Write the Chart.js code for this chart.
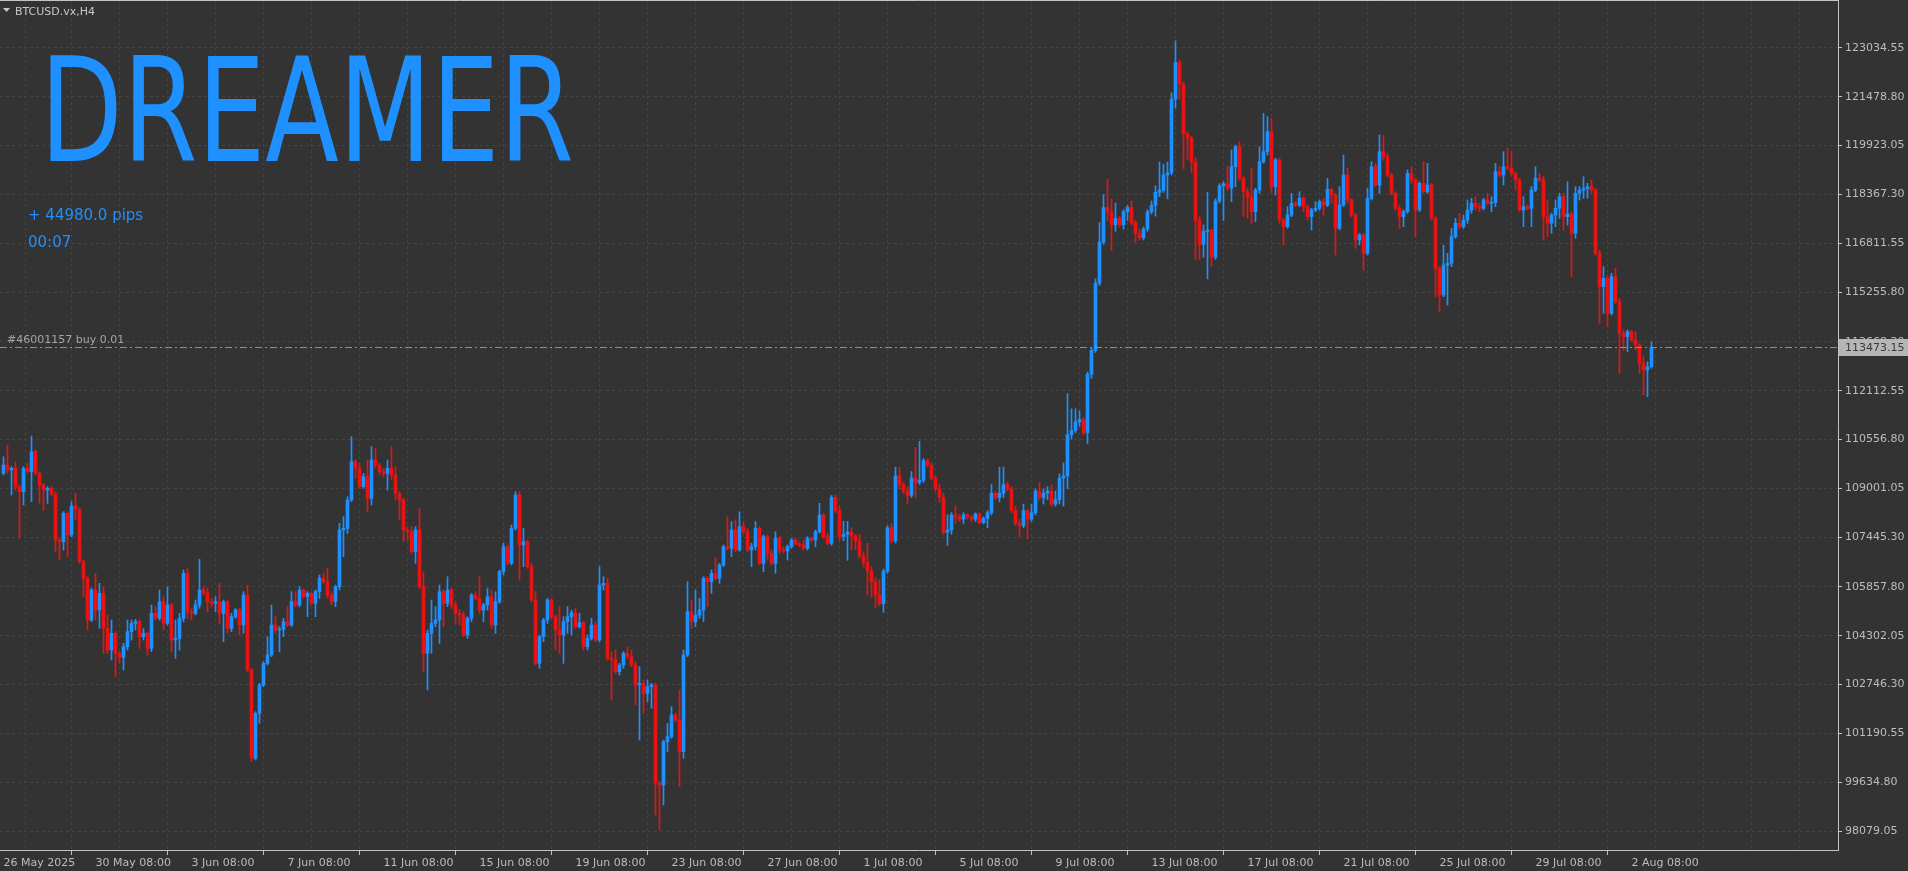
<!DOCTYPE html>
<html>
<head>
<meta charset="utf-8">
<title>BTCUSD.vx,H4</title>
<script src="https://cdn.jsdelivr.net/npm/chart.js@4.4.1/dist/chart.umd.min.js"></script>
<style>
  html, body { margin: 0; padding: 0; background: #333333; overflow: hidden; }
  canvas { display: block; background: #333333; }
</style>
</head>
<body>
<canvas id="chart" width="1908" height="871"></canvas>
<script>
// BTCUSD.vx H4 bars, 26 May 2025 12:00 .. 3 Aug 2025 04:00 (one bar every 4 hours)
const firstOpen = 109478;

const closes = [
  109744, 109584, 109638, 109053, 108894, 109638, 109531, 110169, 109478, 109106,
  108947, 109000, 108820, 107353, 107300, 108203, 107513, 108437, 108330, 106663,
  106132, 104804, 105760, 105122, 105653, 104538, 103847, 104379, 103741, 103614,
  103954, 104432, 104697, 104750, 104272, 104379, 103900, 105016, 104857, 105388,
  104697, 105282, 104166, 104219, 104857, 106291, 105069, 105016, 105282, 105760,
  105675, 105388, 105335, 105388, 105016, 105388, 104538, 104910, 105122, 104644,
  105600, 103210, 100395, 101829, 102732, 103422, 103688, 104644, 104485, 104506,
  104750, 104644, 105388, 105282, 105760, 105547, 105653, 105335, 105707, 106132,
  106025, 105600, 105388, 105866, 107672, 107725, 108628, 109850, 109638, 109053,
  109372, 108681, 109903, 109744, 109531, 109478, 109638, 109425, 108841, 108628,
  107672, 107619, 106982, 107672, 105866, 103741, 104379, 104697, 104804, 105707,
  105335, 105760, 105282, 105016, 104963, 104326, 104857, 105601, 105494, 105122,
  105282, 105547, 104644, 105388, 106344, 107141, 106610, 107725, 108788, 107194,
  107300, 106504, 105441, 103423, 104272, 104804, 105441, 104910, 104485, 104326,
  104751, 104910, 105037, 104591, 104719, 103954, 104219, 104644, 104166, 105919,
  105972, 103582, 103529, 103157, 103369, 103741, 103635, 103369, 102732, 102785,
  102466, 102679, 102732, 99598, 99545, 100926, 101085, 101776, 101617, 100607,
  103688, 105069, 104751, 104963, 105122, 106132, 106026, 106291, 106132, 106557,
  107141, 107088, 107672, 107035, 107778, 107619, 107035, 107141, 107725, 106610,
  107460, 106929, 106610, 107407, 107035, 107003, 107141, 107353, 107226, 107194,
  107088, 107407, 107353, 107619, 108150, 107460, 107247, 108707, 108293, 107465,
  107534, 107603, 107465, 107327, 106844, 106637, 106361, 106016, 105602, 105326,
  106361, 107741, 107327, 109397, 109121, 108914, 108776, 109328, 109190, 109259,
  109880, 109742, 109328, 108983, 108707, 107603, 107672, 108155, 108086, 108017,
  108155, 108086, 108017, 108183, 107907, 108045, 108224, 108845, 108707, 108845,
  109121, 108983, 108293, 107879, 107810, 108293, 108017, 108224, 108914, 108707,
  108845, 108914, 108500, 108638, 109328, 109397, 110708, 110846, 111122, 111191,
  110777, 112639, 113398, 115537, 116847, 117951, 117813, 117399, 117606, 117399,
  117813, 117951, 117468, 117123, 116985, 117261, 117813, 118020, 118434, 118503,
  118986, 119055, 121400, 122573, 121883, 120297, 120159, 119400, 117537, 116779,
  117192, 117234, 116365, 118158, 118641, 118710, 118572, 119252, 119890, 118880,
  118455, 118296, 117818, 118508, 119412, 119730, 120368, 118615, 119465, 117552,
  117340, 117712, 118083, 118030, 118243, 117977, 117658, 117871, 117924, 118137,
  118030, 118529, 118349, 117287, 118030, 118987, 118190, 117712, 116915, 117074,
  116490, 118243, 119252, 118668, 119730, 119571, 118987, 118402, 117924, 117658,
  117818, 119040, 118827, 117871, 118721, 118455, 118668, 117605, 116012, 115162,
  116118, 116171, 117021, 117446, 117340, 117552, 117871, 118083, 117977, 117924,
  118190, 118083, 118105, 119093, 118987, 119252, 119199, 119040, 118827, 117871,
  117977, 117924, 118508, 118880, 118827, 117658, 117446, 117712, 117924, 118296,
  117658, 117743, 117127, 118402, 118508, 118551, 118615, 118508, 116490, 115428,
  115693, 114578, 115746, 114949, 113940, 113834, 113993, 113728, 113568, 112984,
  112772, 112878, 113473
];

const highs = [
  110009, 110381, 109691, 109850, 109106, 109691, 109797, 110668, 110222, 109531,
  109159, 109053, 109050, 108894, 107407, 108256, 108256, 108575, 108841, 108395,
  106716, 106185, 105813, 106291, 105972, 105866, 104963, 104804, 104430, 103794,
  104060, 104804, 104804, 104825, 104800, 104538, 104430, 105282, 105228, 105760,
  105547, 105866, 105335, 104804, 105016, 106397, 106450, 105175, 105441, 106737,
  105866, 105813, 105494, 105547, 105972, 105441, 105441, 105016, 105175, 105175,
  105707, 105919, 103263, 101882, 102785, 103475, 104272, 105282, 104910, 104591,
  104857, 105228, 105707, 105707, 105866, 105800, 105707, 105700, 105760, 106238,
  106291, 106450, 105707, 105919, 107885, 108097, 108734, 110647, 109903, 109797,
  109478, 109903, 110328, 110275, 109797, 109638, 109903, 110328, 109691, 108894,
  108681, 107778, 107778, 107778, 108363, 106344, 104485, 105441, 105229, 105919,
  105760, 106185, 105813, 105388, 105122, 105069, 104910, 105654, 105707, 106185,
  105335, 105813, 105760, 105707, 106397, 107247, 107194, 107832, 108894, 108894,
  107725, 107353, 106610, 105707, 104326, 104857, 105494, 105494, 104963, 105229,
  104910, 105229, 105122, 105176, 105016, 104751, 104326, 104857, 104751, 106504,
  106185, 106132, 103794, 103848, 103423, 103794, 103954, 103848, 103476, 103316,
  102891, 102891, 102785, 102785, 99651, 100979, 101510, 102042, 101829, 102573,
  103848, 106026, 105441, 105760, 105494, 106185, 106185, 106397, 106769, 106610,
  107194, 108097, 107938, 107991, 108257, 107938, 107725, 107247, 107938, 107778,
  107513, 107513, 107035, 107619, 107460, 107141, 107194, 107407, 107407, 107300,
  107353, 107460, 107439, 107672, 108522, 108203, 107566, 108776, 108776, 108431,
  107948, 107948, 107741, 107534, 107534, 106982, 107258, 106499, 106154, 106085,
  106430, 107810, 107879, 109673, 109673, 109190, 109052, 109535, 110294, 110501,
  109949, 109949, 109811, 109397, 109121, 108845, 108155, 108224, 108431, 108183,
  108224, 108183, 108128, 108224, 108224, 108086, 108293, 109121, 108914, 109673,
  109673, 109190, 109052, 108431, 108017, 108500, 108330, 108500, 108983, 109190,
  108983, 109052, 109121, 108914, 109466, 109811, 112018, 111535, 111535, 111466,
  111259, 112708, 113467, 115675, 117468, 118365, 118848, 118227, 118089, 117675,
  117882, 118020, 118158, 117537, 117261, 117330, 117882, 118158, 118641, 119400,
  119331, 119400, 121608, 123263, 122642, 121952, 120366, 120228, 119538, 117675,
  117399, 118434, 117261, 118227, 118710, 118779, 119262, 119783, 119943, 120049,
  118933, 118562, 119199, 118562, 119890, 120952, 120846, 120793, 119518, 119518,
  117605, 117977, 118402, 118137, 118455, 118296, 118030, 117924, 118137, 118190,
  118243, 118880, 118562, 118402, 118615, 119624, 119199, 118243, 117765, 117127,
  117127, 118562, 119412, 119358, 120262, 120262, 119677, 119040, 118455, 118030,
  117871, 119146, 119252, 118880, 118774, 119412, 119358, 118721, 117658, 116065,
  116755, 116490, 117287, 117605, 117765, 117712, 118190, 118243, 118296, 118083,
  118243, 118402, 118296, 119358, 119252, 119730, 119837, 119730, 119093, 118880,
  118296, 118030, 118615, 119252, 119040, 118933, 118190, 117765, 118190, 118402,
  118402, 118774, 117818, 118615, 118615, 118933, 118721, 118827, 118562, 116596,
  116065, 115799, 115852, 116012, 115056, 114046, 114046, 114040, 113993, 113621,
  113196, 113037, 113675
];

const lows = [
  109425, 109478, 108788, 108947, 107407, 108469, 109478, 108575, 109425, 108522,
  108309, 108522, 108756, 106982, 106716, 107035, 106822, 107460, 107991, 106610,
  105547, 104485, 104750, 104804, 104538, 103741, 103741, 103529, 102998, 103422,
  103210, 103847, 104166, 104485, 103900, 104166, 103688, 103794, 104804, 104804,
  104485, 104644, 103794, 103582, 103847, 104750, 104857, 104804, 104963, 105175,
  105600, 105069, 105228, 105069, 104697, 104113, 104379, 104432, 104857, 104325,
  104379, 103157, 100289, 100342, 101510, 102679, 103369, 103635, 104379, 103794,
  104272, 104591, 104600, 105228, 105228, 105494, 104910, 105282, 104910, 105494,
  105972, 105494, 105282, 105228, 105760, 106822, 107566, 108575, 109319, 109000,
  109000, 108256, 108469, 109638, 109425, 109372, 108947, 109266, 108628, 107991,
  107300, 107353, 106928, 106610, 105813, 103157, 102573, 103741, 104591, 104060,
  104591, 105229, 105176, 104697, 104644, 104272, 104219, 104751, 105441, 105016,
  104751, 105122, 104538, 104379, 105335, 106238, 106557, 106560, 107672, 106079,
  106504, 106451, 105388, 103369, 103263, 104113, 104697, 104857, 103848, 103741,
  103423, 104379, 104326, 104538, 104540, 103848, 103848, 104166, 104113, 104110,
  105760, 103529, 102254, 103104, 103051, 103263, 103582, 103316, 102095, 100979,
  101829, 102201, 101989, 98589, 98111, 98908, 100607, 101032, 101563, 99492,
  100395, 103635, 104538, 104591, 104857, 104751, 105229, 105654, 106079, 105972,
  106504, 107035, 106822, 106982, 106990, 107566, 106982, 106504, 107035, 106557,
  106344, 106716, 106557, 106291, 106929, 106950, 106716, 107088, 107194, 107141,
  107035, 107035, 107300, 107141, 107566, 107407, 107194, 107189, 108224, 107327,
  107327, 106706, 107051, 107051, 106775, 106499, 105602, 105533, 105188, 105257,
  105050, 106292, 107258, 107258, 108983, 108845, 108500, 108707, 108707, 109121,
  109190, 109673, 109259, 108914, 108569, 107534, 107189, 107534, 107879, 107948,
  107879, 108017, 107948, 107948, 107879, 107879, 107741, 108155, 108638, 108569,
  108707, 108914, 108224, 107810, 107465, 107741, 107396, 107948, 108155, 108638,
  108500, 108638, 108431, 108431, 108500, 108431, 108983, 110570, 110777, 110984,
  110708, 110432, 112502, 113329, 115468, 116779, 117537, 116572, 117192, 117330,
  117261, 117537, 117399, 116847, 116916, 116916, 117192, 117744, 117675, 118296,
  118434, 118227, 118986, 121125, 121400, 119193, 119469, 119055, 116296, 116296,
  116365, 115675, 116089, 116296, 118089, 117537, 118503, 118137, 118615, 118827,
  117658, 117605, 117446, 117499, 118402, 119358, 119624, 118402, 118349, 117446,
  116755, 117287, 117658, 117977, 117977, 117818, 117552, 117234, 117818, 117871,
  117712, 117977, 118083, 116437, 117234, 117977, 118083, 117658, 116649, 116755,
  115959, 116437, 118190, 118615, 118402, 119465, 118933, 118349, 117871, 117287,
  117340, 117765, 118721, 117021, 117818, 118402, 118402, 117552, 115109, 114631,
  115109, 114843, 116065, 116968, 117287, 117287, 117446, 117765, 117871, 117818,
  117871, 118030, 117818, 117977, 118933, 118668, 119146, 118933, 118508, 117818,
  117340, 117871, 117340, 118455, 118774, 116915, 117021, 117127, 117340, 117605,
  117234, 117393, 115746, 116968, 118190, 118243, 118243, 118402, 116437, 114259,
  114578, 114153, 114525, 114896, 112666, 113409, 113356, 113675, 113409, 112666,
  111975, 111922, 112825
];

// price scale labels as printed by the terminal
const priceTicks = [
  123034.55, 121478.80, 119923.05, 118367.30, 116811.55, 115255.80, 113668.30, 112112.55,
  110556.80, 109001.05, 107445.30, 105857.80, 104302.05, 102746.30, 101190.55, 99634.80, 98079.05
];

// time scale labels and the bar each one belongs to
const timeLabels = [
  '26 May 2025', '30 May 08:00', '3 Jun 08:00', '7 Jun 08:00', '11 Jun 08:00', '15 Jun 08:00',
  '19 Jun 08:00', '23 Jun 08:00', '27 Jun 08:00', '1 Jul 08:00', '5 Jul 08:00', '9 Jul 08:00',
  '13 Jul 08:00', '17 Jul 08:00', '21 Jul 08:00', '25 Jul 08:00', '29 Jul 08:00', '2 Aug 08:00'
];
const timeLabelBars = [0, 23, 47, 71, 95, 119, 143, 167, 191, 215, 239, 263, 287, 311, 335, 359, 383, 407];

const orderPrice = 113473.15;
const orderText = '#46001157 buy 0.01';
const symbolText = 'BTCUSD.vx,H4';
const bannerText = 'DREAMER';
const pipsText = '+ 44980.0 pips';
const timerText = '00:07';

// open of each H4 bar = close of the bar before it
const opens = closes.map((c, i) => (i === 0 ? firstOpen : closes[i - 1]));
const bars = closes.map((c, i) => i);

const BULL = '#1e90ff';
const BEAR = '#e81414';
const GRID = '#434343';
const TEXT = '#bcbcbc';
const FRAME = '#c4c4c4';
const FONT = '"DejaVu Sans", sans-serif';

const candleColors = bars.map(i => (closes[i] >= opens[i] ? BULL : BEAR));

// vertical grid every 12 bars (2 days), labelled every 24
const gridBars = [0];
for (let b = 11; b <= 455; b += 12) gridBars.push(b);

function labelForBar(v) {
  const k = timeLabelBars.indexOf(v);
  return k >= 0 ? timeLabels[k] : '';
}

const overlay = {
  id: 'overlay',
  afterDatasetsDraw(chart) {
    const { ctx, chartArea: a, scales: { y } } = chart;
    const py = Math.round(y.getPixelForValue(orderPrice)) - 0.5;
    ctx.save();
    ctx.beginPath();
    ctx.rect(a.left, a.top, a.right - a.left, a.bottom - a.top);
    ctx.clip();
    ctx.strokeStyle = '#8f8f8f';
    ctx.lineWidth = 1;
    ctx.setLineDash([7, 3, 2, 3]);
    ctx.beginPath();
    ctx.moveTo(a.left, py);
    ctx.lineTo(a.right, py);
    ctx.stroke();
    ctx.restore();
  },
  afterDraw(chart) {
    const { ctx, chartArea: a, scales: { y } } = chart;
    ctx.save();

    // top edge of the chart frame
    ctx.strokeStyle = FRAME;
    ctx.lineWidth = 1;
    ctx.beginPath();
    ctx.moveTo(a.left, 0.5);
    ctx.lineTo(a.right + 0.5, 0.5);
    ctx.stroke();

    // order level text and price tag
    const py = Math.round(y.getPixelForValue(orderPrice));
    ctx.font = '11px ' + FONT;
    ctx.fillStyle = '#a4a4a4';
    ctx.textBaseline = 'alphabetic';
    ctx.textAlign = 'left';
    ctx.fillText(orderText, 7, py - 5);

    ctx.fillStyle = '#b6b6b6';
    ctx.fillRect(a.right + 1, py - 9, chart.width - a.right - 1, 17);
    ctx.fillStyle = '#3a3a3a';
    ctx.textBaseline = 'middle';
    ctx.fillText(orderPrice.toFixed(2), a.right + 7, py);

    // symbol caption
    ctx.fillStyle = '#c8c8c8';
    ctx.beginPath();
    ctx.moveTo(3, 8);
    ctx.lineTo(10, 8);
    ctx.lineTo(6.5, 12);
    ctx.closePath();
    ctx.fill();
    ctx.textBaseline = 'alphabetic';
    ctx.fillText(symbolText, 15, 15);

    // banner
    ctx.font = '145px "Liberation Sans Narrow", "DejaVu Sans Condensed", sans-serif';
    const w = ctx.measureText(bannerText).width;
    ctx.save();
    ctx.translate(40, 161);
    ctx.scale(534 / w, 1);
    ctx.fillStyle = BULL;
    ctx.fillText(bannerText, 0, 0);
    ctx.restore();

    // profit and timer
    ctx.font = '15px ' + FONT;
    ctx.fillStyle = BULL;
    ctx.fillText(pipsText, 28, 220);
    ctx.fillText(timerText, 28, 247);

    ctx.restore();
  }
};

const ctx = document.getElementById('chart').getContext('2d');
new Chart(ctx, {
  type: 'bar',
  data: {
    datasets: [
      {
        label: 'wick',
        data: bars.map(i => ({ x: i, y: [lows[i], highs[i]] })),
        backgroundColor: candleColors,
        barThickness: 1,
        grouped: false,
        borderWidth: 0,
        order: 2
      },
      {
        label: 'body',
        data: bars.map(i => ({ x: i, y: [opens[i], closes[i]] })),
        backgroundColor: candleColors,
        barThickness: 3,
        minBarLength: 1,
        grouped: false,
        borderWidth: 0,
        order: 1
      }
    ]
  },
  options: {
    responsive: false,
    animation: false,
    events: [],
    layout: { padding: 0 },
    plugins: { legend: { display: false }, tooltip: { enabled: false } },
    scales: {
      x: {
        type: 'linear',
        position: 'bottom',
        bounds: 'data',
        min: -0.875,
        max: 458.625,
        offset: false,
        afterBuildTicks: s => { s.ticks = gridBars.map(v => ({ value: v })); },
        afterFit: s => { s.height = 21; s.paddingLeft = 0; s.paddingRight = 0; },
        ticks: {
          autoSkip: false,
          maxRotation: 0,
          minRotation: 0,
          align: 'start',
          padding: 2,
          color: TEXT,
          font: { family: FONT, size: 11 },
          callback: v => labelForBar(v)
        },
        grid: {
          color: c => (c.tick && c.tick.value === 0 ? 'rgba(0,0,0,0)' : GRID),
          borderDash: [3, 3],
          tickLength: 5,
          tickColor: c => (c.tick && labelForBar(c.tick.value) && c.tick.value !== 0 ? FRAME : 'rgba(0,0,0,0)'),
          tickBorderDash: [],
          lineWidth: 1
        },
        border: { display: true, color: FRAME, width: 1, dash: [3, 3] }
      },
      y: {
        type: 'linear',
        position: 'right',
        bounds: 'data',
        min: 97474,
        max: 124564,
        afterBuildTicks: s => { s.ticks = priceTicks.map(v => ({ value: v })); },
        afterFit: s => { s.width = 70; s.paddingTop = 0; s.paddingBottom = 0; },
        ticks: {
          padding: 3,
          color: TEXT,
          font: { family: FONT, size: 11 },
          callback: v => Number(v).toFixed(2)
        },
        grid: {
          color: GRID,
          borderDash: [3, 3],
          tickLength: 4,
          tickColor: FRAME,
          tickBorderDash: [],
          lineWidth: 1
        },
        border: { display: true, color: FRAME, width: 1, dash: [3, 3] }
      }
    }
  },
  plugins: [overlay]
});
</script>
</body>
</html>
